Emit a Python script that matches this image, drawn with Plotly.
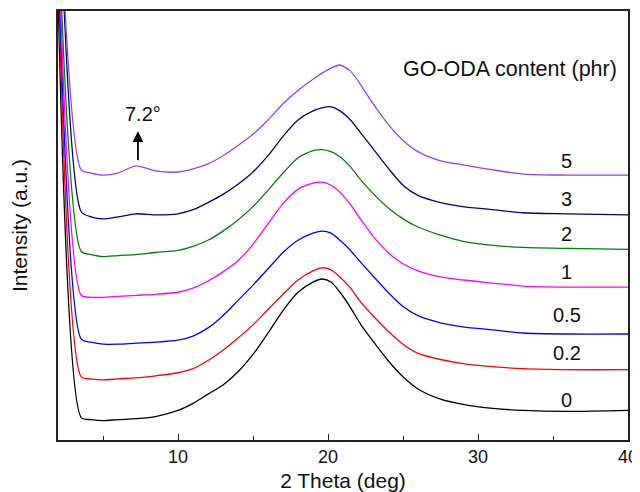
import plotly.graph_objects as go

two_theta = [2.0, 3.55, 4.2, 5.0, 6.0, 7.2, 8.5, 10.0, 11.0, 12.0, 13.0, 14.0, 15.0, 16.0,
             17.0, 18.0, 19.0, 19.6, 20.2, 20.8, 21.5, 22.2, 23.0, 24.0, 25.0, 26.0, 27.5,
             29.0, 31.0, 33.0, 36.0, 40.0]

i_0 = [439, 22, 20, 19, 20, 21, 23, 29, 36, 45, 54, 67, 84, 105, 127, 145, 155, 158, 155,
       145, 130, 113, 97, 78, 62, 50, 40, 35, 31, 29, 28, 29]
i_02 = [472, 62, 60, 59, 60, 61, 63, 66, 70, 78, 88, 100, 113, 128, 143, 157, 166, 169, 167,
        160, 149, 135, 122, 107, 94, 85, 79, 75, 72, 70, 69, 69]
i_05 = [489, 99, 96, 94, 94, 95, 96, 98, 102, 110, 122, 137, 152, 168, 184, 196, 203, 205,
        203, 196, 186, 174, 161, 145, 131, 122, 115, 111, 108, 105, 104, 104]
i_1 = [503, 142, 140, 140, 141, 142, 143, 145, 149, 156, 165, 176, 192, 212, 232, 246, 252,
       253, 250, 243, 231, 216, 200, 184, 173, 166, 160, 157, 154, 151, 150, 150]
i_2 = [518, 185, 182, 180, 181, 182, 184, 186, 190, 196, 205, 216, 229, 245, 262, 277, 284,
       285, 283, 278, 268, 255, 242, 228, 217, 209, 201, 195, 191, 189, 188, 187]
i_3 = [585, 224, 219, 217, 219, 222, 221, 222, 226, 233, 241, 251, 263, 279, 298, 314, 323,
       326, 327, 323, 314, 301, 286, 267, 250, 240, 233, 229, 226, 223, 222, 221]
i_5 = [575, 265, 262, 260, 262, 269, 264, 263, 266, 271, 279, 289, 300, 314, 330, 343, 354,
       360, 365, 368, 362, 348, 330, 310, 294, 283, 274, 270, 265, 261, 260, 260]

series_names = ["0", "0.2", "0.5", "1", "2", "3", "5"]
series_values = [i_0, i_02, i_05, i_1, i_2, i_3, i_5]
series_colors = ["#000000", "#FF0000", "#0000FF", "#FF00FF", "#008000", "#000080", "#9340F5"]
label_y = [39, 85, 123, 165, 202, 237, 274]

fig = go.Figure()
for name, vals, col in zip(series_names, series_values, series_colors):
    fig.add_trace(go.Scatter(x=two_theta, y=vals, mode="lines", name=name,
                             line=dict(color=col, width=1.3, shape="spline", smoothing=0.7),
                             showlegend=False))

font = "Arial, Liberation Sans, sans-serif"
for name, ly in zip(series_names, label_y):
    fig.add_annotation(x=35.9, y=ly, text=name, showarrow=False,
                       font=dict(family=font, size=20, color="#111"))

fig.add_annotation(x=32.1, y=364, text="GO-ODA content (phr)", showarrow=False,
                   font=dict(family=font, size=21.5, color="#111"))
fig.add_annotation(x=7.67, y=320, text="7.2°", showarrow=False,
                   font=dict(family=font, size=20, color="#111"))
fig.add_annotation(x=7.33, y=303, ax=7.33, ay=273, xref="x", yref="y", axref="x", ayref="y",
                   text="", showarrow=True, arrowhead=2, arrowsize=1.2, arrowwidth=1.8,
                   arrowcolor="#000")

# the page body adds an 8px offset, so the figure is sized to fit the 640x492 window
fig.update_layout(
    width=632, height=484,
    margin=dict(l=50, r=12, t=3, b=52),
    plot_bgcolor="white", paper_bgcolor="white",
    font=dict(family=font, size=18, color="#111"),
)
fig.update_xaxes(range=[2, 40], showline=True, linecolor="#222", linewidth=1.5, mirror=True,
                 tickvals=[10, 20, 30, 40], ticks="inside", ticklen=6, tickcolor="#222",
                 minor=dict(tickvals=[5, 15, 25, 35], ticks="inside", ticklen=4, tickcolor="#222"),
                 showgrid=False, zeroline=False, automargin=False,
                 title=dict(text="2 Theta (deg)", font=dict(size=21), standoff=8),
                 tickfont=dict(size=18))
fig.update_yaxes(range=[0, 421], showline=True, linecolor="#222", linewidth=1.5, mirror=True,
                 showticklabels=False, ticks="", showgrid=False, zeroline=False, automargin=False,
                 title=dict(text="Intensity (a.u.)", font=dict(size=21), standoff=24))

fig.write_html("out.html")
